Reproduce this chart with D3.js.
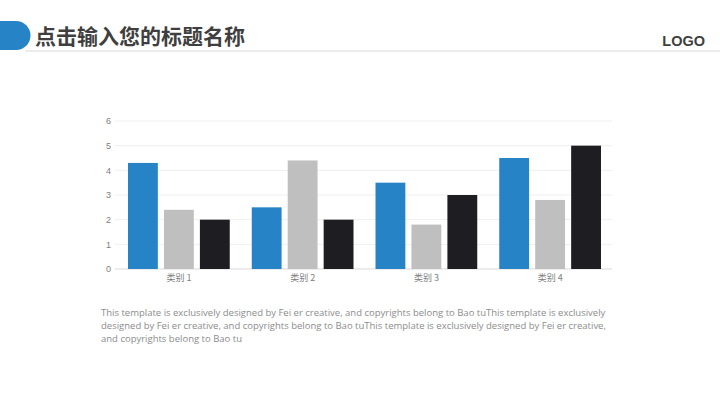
<!DOCTYPE html>
<html><head><meta charset="utf-8">
<script src="https://cdn.jsdelivr.net/npm/d3@7"></script>
<style>body{margin:0;background:#fff}svg{display:block}</style>
</head><body>
<script>
const categories = ["类别 1", "类别 2", "类别 3", "类别 4"];
const seriesNames = ["系列 1", "系列 2", "系列 3"];
const series1 = [4.3, 2.5, 3.5, 4.5];
const series2 = [2.4, 4.4, 1.8, 2.8];
const series3 = [2.0, 2.0, 3.0, 5.0];
const yTicks = [0, 1, 2, 3, 4, 5, 6];
const colors = ["#2683C6", "#BFBFBF", "#1E1E22"];
const captionLines = [
  "This template is exclusively designed by Fei er creative, and copyrights belong to Bao tuThis template is exclusively",
  "designed by Fei er creative, and copyrights belong to Bao tuThis template is exclusively designed by Fei er creative,",
  "and copyrights belong to Bao tu"
];

const W = 720, H = 405;
const svg = d3.select("body").append("svg").attr("width", W).attr("height", H);

// header
svg.append("line").attr("x1", 25).attr("x2", 720).attr("y1", 51).attr("y2", 51)
  .attr("stroke", "#d9d9d9").attr("stroke-width", 1);
svg.append("path").attr("d", "M0,21 H16 A14.5,14.5 0 0 1 16,50 H0 Z").attr("fill", "#2683C6");
svg.append("text").attr("x", 35).attr("y", 44).text("点击输入您的标题名称")
  .attr("font-family", "'Noto Sans CJK SC', sans-serif").attr("font-weight", "bold")
  .attr("font-size", 21).attr("fill", "#3f3f3f");
svg.append("text").attr("x", 705).attr("y", 46).attr("text-anchor", "end").text("LOGO")
  .attr("font-family", "Arial, 'Liberation Sans', sans-serif").attr("font-weight", "bold")
  .attr("font-size", 14.5).attr("fill", "#3f3f3f");

// chart
const x0 = d3.scaleBand().domain(categories).range([117, 612]).paddingInner(0).paddingOuter(0);
const x1 = d3.scaleBand().domain(seriesNames).range([11, x0.bandwidth() - 11]).paddingInner(0.17);
const y = d3.scaleLinear().domain([0, 6]).range([269, 121]);

const g = svg.append("g");
g.selectAll("line.grid").data(yTicks).join("line").attr("class", "grid")
  .attr("x1", 115).attr("x2", 612).attr("y1", d => y(d)).attr("y2", d => y(d))
  .attr("stroke", d => d === 0 ? "#d9d9d9" : "#efefef").attr("stroke-width", 1);

const yAxis = d3.axisLeft(y).tickValues(yTicks).tickFormat(d3.format("d")).tickSize(0).tickPadding(0);
const ya = g.append("g").attr("transform", "translate(111,0)").call(yAxis);
ya.select(".domain").remove();
ya.selectAll("text").attr("font-family", "'Liberation Sans', Arial, sans-serif")
  .attr("font-size", 9).attr("fill", "#808080");

const data = categories.map((c, i) => ({c, vals: [series1[i], series2[i], series3[i]]}));
const grp = g.selectAll("g.cat").data(data).join("g").attr("class", "cat")
  .attr("transform", d => `translate(${x0(d.c)},0)`);
grp.selectAll("rect").data(d => d.vals.map((v, j) => ({v, s: seriesNames[j], j})))
  .join("rect")
  .attr("x", d => x1(d.s)).attr("width", x1.bandwidth())
  .attr("y", d => y(d.v)).attr("height", d => y(0) - y(d.v))
  .attr("fill", d => colors[d.j]);

const xAxis = d3.axisBottom(x0).tickSize(0).tickPadding(6);
const xa = g.append("g").attr("transform", "translate(0,269)").call(xAxis);
xa.select(".domain").remove();
xa.selectAll("text").attr("font-family", "'Noto Sans CJK SC', sans-serif")
  .attr("font-size", 9).attr("fill", "#808080");

// caption
svg.append("g").selectAll("text").data(captionLines).join("text")
  .attr("x", 101).attr("y", (d, i) => 316 + i * 13).text(d => d)
  .attr("font-family", "'Open Sans', sans-serif").attr("font-size", 9.5).attr("fill", "#8c8c8c");
</script>
</body></html>
